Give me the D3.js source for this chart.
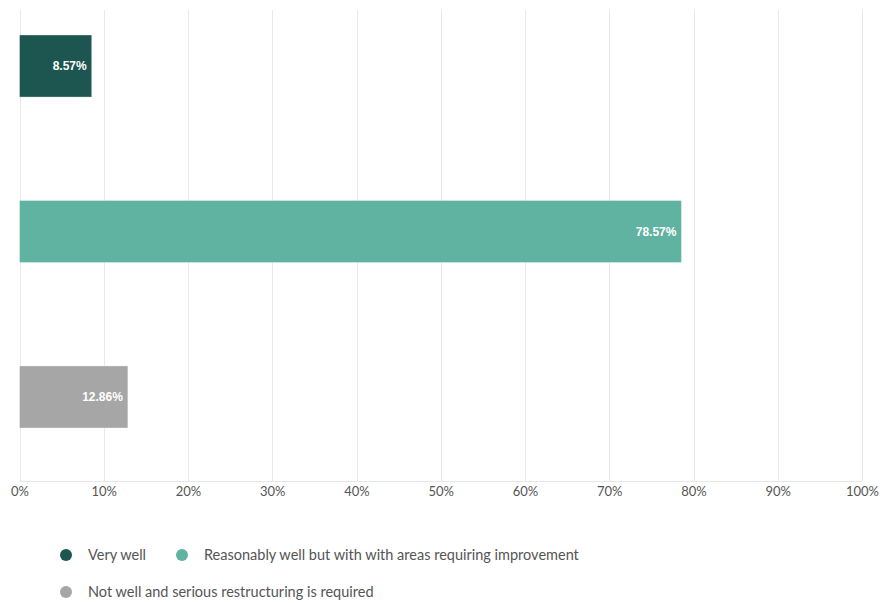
<!DOCTYPE html>
<html>
<head>
<meta charset="utf-8">
<script src="https://cdn.jsdelivr.net/npm/d3@7/dist/d3.min.js"></script>
<style>
  html, body { margin: 0; padding: 0; background: #fff; }
  svg { display: block; }
</style>
</head>
<body>
<svg id="chart" width="880" height="603"></svg>
<script>
// Survey answers and their shares (%)
const categories = [
  "Very well",
  "Reasonably well but with with areas requiring improvement",
  "Not well and serious restructuring is required"
];
const values = [8.57, 78.57, 12.86];
const colors = ["#1d5650", "#60b2a1", "#a6a6a6"];
const tickValues = [0, 10, 20, 30, 40, 50, 60, 70, 80, 90, 100];

const svg = d3.select("#chart");

const x = d3.scaleLinear().domain([0, 100]).range([19.5, 862]);
const y = d3.scaleBand().domain(categories).range([35, 428])
  .paddingInner(0.625).paddingOuter(0);

const plotTop = 10, plotBottom = 481;

// vertical gridlines
svg.append("g").selectAll("line").data(tickValues).join("line")
  .attr("x1", d => Math.round(x(d)) + 0.5).attr("x2", d => Math.round(x(d)) + 0.5)
  .attr("y1", plotTop).attr("y2", plotBottom)
  .attr("stroke", "#e8e8e8").attr("stroke-width", 1);

// baseline
svg.append("line")
  .attr("x1", x(0)).attr("x2", x(100))
  .attr("y1", plotBottom + 0.5).attr("y2", plotBottom + 0.5)
  .attr("stroke", "#e6e6e6");

// x axis labels
const axis = d3.axisBottom(x).tickValues(tickValues).tickFormat(d => d + "%").tickSize(0).tickPadding(6);
const ax = svg.append("g").attr("transform", `translate(0,${plotBottom})`).call(axis);
ax.select(".domain").remove();
ax.selectAll("text")
  .attr("font-family", "Lato, 'Open Sans', sans-serif")
  .attr("font-size", 13)
  .attr("fill", "#555");

// bars
svg.append("g").selectAll("rect").data(values).join("rect")
  .attr("x", x(0))
  .attr("y", (d, i) => y(categories[i]))
  .attr("width", d => x(d) - x(0))
  .attr("height", y.bandwidth())
  .attr("fill", (d, i) => colors[i])
  .attr("stroke", "rgba(255,255,255,0.35)")
  .attr("stroke-width", 1);

// value labels inside bar ends
svg.append("g").selectAll("text").data(values).join("text")
  .attr("x", d => x(d) - 5)
  .attr("y", (d, i) => y(categories[i]) + y.bandwidth() / 2)
  .attr("dy", "0.35em")
  .attr("text-anchor", "end")
  .attr("font-family", "'Liberation Sans', Arial, sans-serif")
  .attr("font-weight", "bold")
  .attr("font-size", 12)
  .attr("fill", "#fff")
  .text(d => d.toFixed(2) + "%");

// legend
const legendItems = [
  { cx: 66, cy: 555 },
  { cx: 182, cy: 555 },
  { cx: 66, cy: 592 }
];
const lg = svg.append("g").selectAll("g").data(categories).join("g")
  .attr("transform", (d, i) => `translate(${legendItems[i].cx},${legendItems[i].cy})`);
lg.append("circle").attr("r", 6).attr("fill", (d, i) => colors[i]);
lg.append("text")
  .attr("x", 22).attr("dy", "0.35em")
  .attr("font-family", "Lato, 'Open Sans', sans-serif")
  .attr("font-size", 14.5)
  .attr("fill", "#555")
  .text(d => d);
</script>
</body>
</html>
